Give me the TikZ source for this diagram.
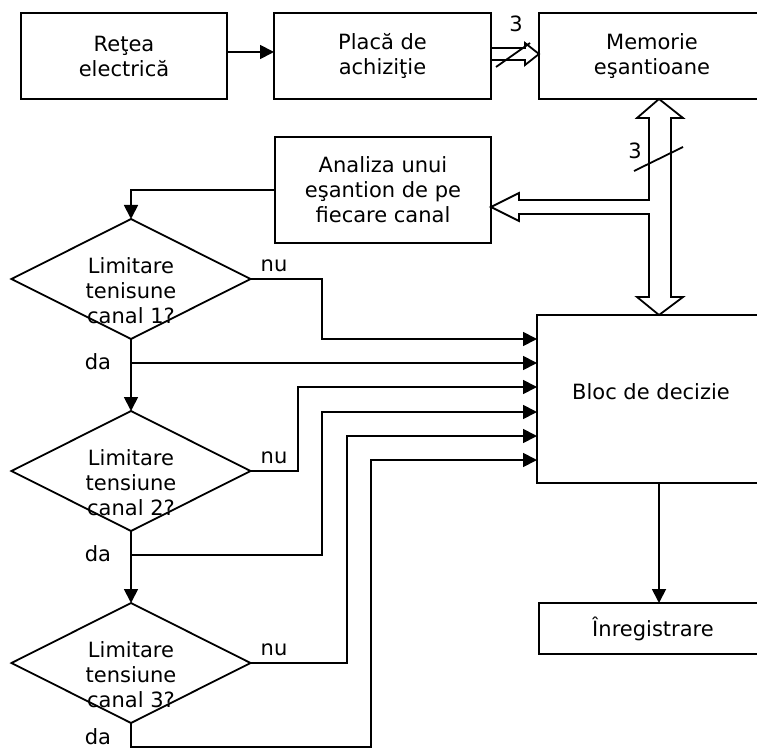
\documentclass[tikz,border=0pt]{standalone}
\usepackage{fontspec}
\setmainfont{DejaVu Sans}
\usetikzlibrary{arrows.meta,shapes.geometric}
\newcommand\myfs{\fontsize{21pt}{25pt}\selectfont}
\tikzset{
  box/.style={draw, line width=1.8pt, inner sep=0pt, outer sep=0pt, align=center, font=\myfs},
  dia/.style={draw, shape=diamond, line width=1.8pt, inner sep=0pt, outer sep=0pt, minimum width=239pt, minimum height=120pt},
  lbl/.style={font=\myfs, inner sep=0pt, align=center},
  arr/.style={line width=1.8pt, -{Triangle[length=14pt,width=14pt]}},
  ln/.style={line width=1.8pt, line join=miter},
}
\begin{document}
\begin{tikzpicture}[x=1pt,y=-1pt]
\useasboundingbox (0,0) rectangle (757,751);
\clip (0,0) rectangle (757,751);
% boxes
\node[box, minimum width=206pt, minimum height=86pt] (retea) at (124,56) {Reţea\\electrică};
\node[box, minimum width=217pt, minimum height=86pt] (placa) at (382.5,56) {Placă de\\achiziţie};
\node[box, minimum width=226pt, minimum height=86pt] (mem) at (652,56) {Memorie\\eşantioane};
\node[box, minimum width=216pt, minimum height=106pt] (anal) at (383,190) {Analiza unui\\eşantion de pe\\fiecare canal};
\node[box, minimum width=228pt, minimum height=168pt] (bloc) at (651,399) {};
\node[lbl] (bloctxt) at (651,392) {Bloc de decizie};
\node[box, minimum width=228pt, minimum height=51pt] (inreg) at (653,628.5) {Înregistrare};
% diamonds
\node[dia] (d1) at (131,279) {};
\node[dia] (d2) at (131,471) {};
\node[dia] (d3) at (131,663) {};
\node[lbl] (t1) at (131,291) {Limitare\\tenisune\\canal 1?};
\node[lbl] (t2) at (131,483) {Limitare\\tensiune\\canal 2?};
\node[lbl] (t3) at (131,675) {Limitare\\tensiune\\canal 3?};
% labels
\node[lbl] (nu1) at (274,266) {nu};
\node[lbl] (nu2) at (274,458) {nu};
\node[lbl] (nu3) at (274,650) {nu};
\node[lbl] (da1) at (98,362) {da};
\node[lbl] (da2) at (98,554) {da};
\node[lbl] (da3) at (98,737) {da};
\node[lbl] (n3a) at (516,24) {3};
\node[lbl] (n3b) at (635,151) {3};
% Retea -> Placa
\draw[arr] ([yshift=4pt]retea.east) -- ([yshift=4pt]placa.west);
% Placa => Memorie (hollow)
\draw[ln] (placa.east |- 0,48) -- (525,48) -- (525,43) -- (mem.west |- 0,54) -- (525,65) -- (525,60) -- (placa.east |- 0,60);
\draw[ln] (496,67) -- (530,43);
% Memorie <=> Bloc with branch to Analiza
\draw[ln, fill=white] (649,118) -- (637,118) -- (659,0 |- mem.south) -- (683,118) -- (671,118)
  -- (671,297) -- (683,297) -- (659,0 |- bloc.north) -- (637,297) -- (649,297)
  -- (649,214) -- (519,214) -- (519,221) -- (anal.east |- 0,207) -- (519,193) -- (519,200)
  -- (649,200) -- cycle;
\draw[ln] (634,171) -- (683,147);
% Analiza -> d1
\draw[arr] (anal.west) -| (d1.north);
% flow
\draw[arr] (d1.south) -- (d2.north);
\draw[arr] (d2.south) -- (d3.north);
\draw[arr] (d1.east) -| (322,339) -- (bloc.west |- 0,339);
\draw[arr] (131,363) -- (bloc.west |- 0,363);
\draw[arr] (d2.east) -| (298,387) -- (bloc.west |- 0,387);
\draw[arr] (131,555) -| (322,412) -- (bloc.west |- 0,412);
\draw[arr] (d3.east) -| (347,436) -- (bloc.west |- 0,436);
\draw[arr] (d3.south) |- (371,747) |- (bloc.west |- 0,460);
% Bloc -> Inregistrare
\draw[arr] (659,0 |- bloc.south) -- (659,0 |- inreg.north);
\end{tikzpicture}
\end{document}
